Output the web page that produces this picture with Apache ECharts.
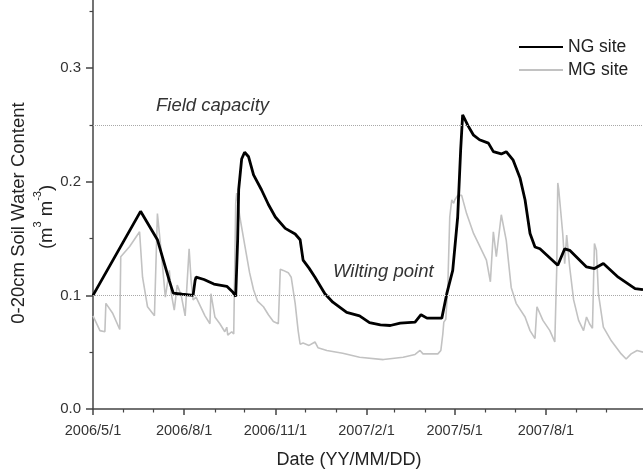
<!DOCTYPE html>
<html>
<head>
<meta charset="utf-8">
<script src="https://cdn.jsdelivr.net/npm/echarts@6/dist/echarts.min.js"></script>
<style>
html,body{margin:0;padding:0;background:#fff;}
#chart{width:643px;height:471px;}
</style>
</head>
<body>
<div id="chart"></div>
<script>
// ---- data (days counted from the first date) ----
var startDate = '2006/5/1';
var endDate = '2007/11/7';
var xTickLabels = ['2006/5/1','2006/8/1','2006/11/1','2007/2/1','2007/5/1','2007/8/1'];
var xMinorTicks = ['2006/6/1','2006/7/1','2006/9/1','2006/10/1','2006/12/1','2007/1/1','2007/3/1','2007/4/1','2007/6/1','2007/7/1','2007/9/1','2007/10/1'];
var yTickLabels = [0, 0.1, 0.2, 0.3];
var yMinorTicks = [0.05, 0.15, 0.25, 0.35];
var fieldCapacity = 0.25;
var wiltingPoint = 0.105;

var ngDays = [0,48,65,72,77,81,90,101,103,104,112,122,135,141,144,146,147,150,153,157,162,170,177,184,194,204,209,212,218,224,234,242,256,269,279,290,300,310,325,331,337,352,357,363,368,371,373,378,384,390,399,404,412,417,424,431,436,441,446,451,453,469,476,481,498,506,515,530,547,555];
var ngValues = [0.100,0.174,0.149,0.128,0.113,0.102,0.101,0.100,0.113,0.116,0.114,0.110,0.108,0.103,0.099,0.150,0.193,0.220,0.226,0.222,0.206,0.193,0.180,0.169,0.159,0.154,0.149,0.131,0.124,0.116,0.1015,0.094,0.085,0.082,0.076,0.074,0.0735,0.0756,0.0765,0.083,0.080,0.080,0.1015,0.122,0.169,0.228,0.259,0.250,0.241,0.237,0.234,0.2265,0.2245,0.2265,0.219,0.203,0.184,0.1545,0.1426,0.141,0.1397,0.1265,0.141,0.1397,0.125,0.1236,0.128,0.116,0.106,0.105];

var mgDays = [0,7,12,13,20,27,28,37,47,50,55,62,65,69,73,77,79,82,85,89,93,97,99,101,104,113,118,119,123,128,133,135,136,140,142,144,145,148,153,158,162,166,172,177,182,187,189,192,197,200,204,207,209,212,218,224,227,236,252,269,293,313,325,330,333,348,351,353,354,356,358,360,362,364,365,368,372,377,384,389,397,401,404,407,412,417,422,427,436,441,446,448,449,454,461,466,468,469,470,474,476,478,481,485,490,495,498,501,504,506,508,510,515,523,533,538,543,549,555];
var mgValues = [0.082,0.069,0.068,0.093,0.084,0.070,0.134,0.143,0.156,0.116,0.090,0.082,0.172,0.137,0.0985,0.122,0.1015,0.087,0.109,0.100,0.082,0.141,0.113,0.096,0.0985,0.082,0.075,0.1015,0.081,0.075,0.068,0.072,0.065,0.068,0.066,0.181,0.190,0.170,0.145,0.120,0.105,0.095,0.090,0.083,0.077,0.075,0.123,0.122,0.120,0.116,0.093,0.069,0.057,0.058,0.056,0.059,0.054,0.0515,0.049,0.0455,0.0435,0.0455,0.048,0.0515,0.0485,0.0485,0.0515,0.066,0.0765,0.079,0.107,0.169,0.184,0.181,0.184,0.188,0.188,0.172,0.1545,0.1456,0.131,0.112,0.156,0.134,0.171,0.1485,0.107,0.093,0.081,0.069,0.062,0.090,0.0897,0.078,0.069,0.059,0.125,0.199,0.193,0.1545,0.128,0.153,0.125,0.096,0.078,0.069,0.081,0.075,0.071,0.1456,0.1397,0.1015,0.072,0.060,0.0485,0.044,0.0485,0.0515,0.050];

// ---- helpers ----
function parseDate(s){ var p = s.split('/'); return new Date(+p[0], +p[1]-1, +p[2]); }
function dayToTime(d){ var b = parseDate(startDate); return new Date(b.getFullYear(), b.getMonth(), b.getDate()+d).getTime(); }
function pairs(days, vals){ return days.map(function(d,i){ return [dayToTime(d), vals[i]]; }); }
function fmtDate(v){ var d = new Date(v); return d.getFullYear()+'/'+(d.getMonth()+1)+'/'+d.getDate(); }

var xMin = parseDate(startDate).getTime();
var xMax = parseDate(endDate).getTime();
var FONT = '"Liberation Sans", Arial, sans-serif';
var majorX = xTickLabels.map(function(s){ return parseDate(s).getTime(); });
var minorX = xMinorTicks.map(function(s){ return parseDate(s).getTime(); });

var chart = echarts.init(document.getElementById('chart'), null, {renderer:'canvas'});
chart.setOption({
  animation: false,
  backgroundColor: '#fff',
  grid: {left: 93, right: 0, top: 0, bottom: 62, containLabel: false},
  legend: {
    data: ['NG site', 'MG site'],
    orient: 'vertical',
    left: 518, top: 38, padding: 0,
    itemWidth: 44, itemHeight: 20, itemGap: 5,
    itemStyle: {opacity: 0},
    textStyle: {fontFamily: FONT, fontSize: 17.5, color: '#222'}
  },
  xAxis: [{
    type: 'value', min: xMin, max: xMax, scale: true,
    axisLine: {show: true, lineStyle: {color: '#444', width: 1.5}},
    axisTick: {show: true, length: 6, lineStyle: {color: '#444', width: 1.5}, customValues: majorX},
    axisLabel: {show: true, margin: 14, fontFamily: FONT, fontSize: 14.5, color: '#333',
      customValues: majorX, formatter: function(v){ return fmtDate(v); }},
    splitLine: {show: false}
  }, {
    type: 'value', min: xMin, max: xMax, scale: true, position: 'bottom', gridIndex: 0,
    axisLine: {show: false},
    axisTick: {show: true, length: 3.5, lineStyle: {color: '#444', width: 1.2}, customValues: minorX},
    axisLabel: {show: false},
    splitLine: {show: false}
  }],
  yAxis: [{
    type: 'value', min: 0, max: 0.36,
    axisLine: {show: true, lineStyle: {color: '#444', width: 1.5}},
    axisTick: {show: true, length: 7, lineStyle: {color: '#444', width: 1.5}, customValues: yTickLabels},
    axisLabel: {show: true, margin: 12, fontFamily: FONT, fontSize: 15, color: '#333',
      customValues: yTickLabels, formatter: function(v){ return (+v).toFixed(1); }},
    splitLine: {show: false}
  }, {
    type: 'value', min: 0, max: 0.36, position: 'left',
    axisLine: {show: false},
    axisTick: {show: true, length: 3.5, lineStyle: {color: '#444', width: 1.2}, customValues: yMinorTicks},
    axisLabel: {show: false},
    splitLine: {show: false}
  }],
  series: [{
    name: 'MG site', type: 'line', xAxisIndex: 0, yAxisIndex: 0,
    data: pairs(mgDays, mgValues),
    symbol: 'none', smooth: false,
    lineStyle: {color: '#c2c2c2', width: 1.6},
    itemStyle: {color: '#c2c2c2'}
  }, {
    name: 'NG site', type: 'line', xAxisIndex: 0, yAxisIndex: 0,
    data: pairs(ngDays, ngValues),
    symbol: 'none', smooth: false, z: 3,
    lineStyle: {color: '#000', width: 2.8},
    itemStyle: {color: '#000'},
    markLine: {
      silent: true, symbol: ['none','none'],
      label: {show: false},
      lineStyle: {type: 'dotted', color: '#a8a8a8', width: 1},
      data: [{yAxis: fieldCapacity}, {yAxis: wiltingPoint}]
    }
  }],
  graphic: [
    {type: 'text', x: 156, y: 106, style: {text: 'Field capacity', font: 'italic 18.5px ' + FONT, fill: '#333', textVerticalAlign: 'middle'}},
    {type: 'text', x: 333, y: 272, style: {text: 'Wilting point', font: 'italic 18.5px ' + FONT, fill: '#333', textVerticalAlign: 'middle'}},
    {type: 'text', x: 349, y: 460, style: {text: 'Date (YY/MM/DD)', font: '18px ' + FONT, fill: '#222', textAlign: 'center', textVerticalAlign: 'middle'}},
    {type: 'text', x: 19, y: 213, rotation: Math.PI/2, style: {text: '0-20cm Soil Water Content', font: '18.5px ' + FONT, fill: '#222', textAlign: 'center', textVerticalAlign: 'middle'}},
    {type: 'text', x: 44, y: 217, rotation: Math.PI/2, style: {
      text: '{b|(m}{s|3}{b| m}{s|-3}{b|)}', fill: '#222', textAlign: 'center', textVerticalAlign: 'middle',
      rich: {b: {fontFamily: FONT, fontSize: 18.5, lineHeight: 24, verticalAlign: 'bottom'},
             s: {fontFamily: FONT, fontSize: 11, lineHeight: 24, verticalAlign: 'top'}}}}
  ]
});
</script>
</body>
</html>
